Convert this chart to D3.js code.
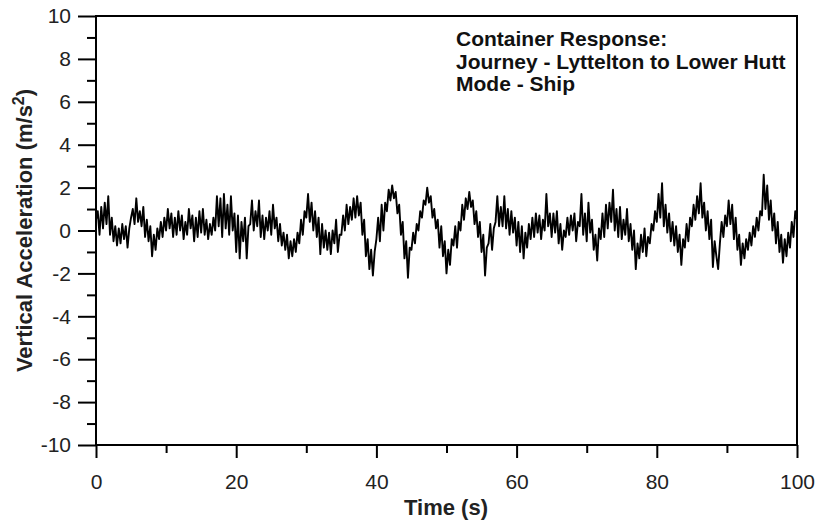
<!DOCTYPE html>
<html><head><meta charset="utf-8">
<script src="https://cdn.jsdelivr.net/npm/d3@7"></script>
<style>body{margin:0;background:#fff}svg{display:block}text{font-family:"Liberation Sans",Arial,sans-serif}</style>
</head><body>
<svg id="c" width="818" height="522"></svg>
<script>
const timeStep = 0.25;
const accel = [
0.5,0.9,-0.2,1.1, 0.1,1.3,0.3,1.6, -0.2,0.6,-0.5,0.2, -0.7,0.1,-0.6,0.3, -0.4,0.2,-0.8,0.1,
0.6,1.0,0.3,1.5, 0.4,0.9,0.2,1.1, -0.3,0.5,-0.5,0.2, -1.2,-0.2,-0.9,0.1, -0.4,0.4,-0.3,0.6,
0.0,1.0,0.1,0.8, -0.3,0.6,-0.2,0.9, 0.0,0.7,-0.4,0.4, -0.2,1.0,0.1,0.7, -0.5,0.6,-0.3,0.9,
-0.1,1.0,-0.2,0.5, -0.4,0.3,-0.2,0.6, 0.0,1.6,0.2,1.5, -0.3,1.7,0.1,1.2, -0.2,1.6,0.0,0.8,
-1.0,0.7,-1.3,0.4, -0.5,0.6,-1.3,0.2, 0.3,1.4,0.0,0.9, 0.2,1.4,-0.3,0.7, -0.4,0.6,0.0,0.9,
-0.2,1.2,0.1,0.6, -0.5,0.3,-0.7,-0.1, -0.9,-0.2,-1.3,-0.5, -1.2,-0.4,-1.0,-0.1, -0.6,0.5,-0.2,0.9,
0.6,1.7,0.4,1.3, 0.0,0.9,-0.3,0.6, -1.1,0.3,-0.8,0.0, -0.9,-0.1,-1.1,0.0, -0.6,0.5,-1.0,-0.2,
-0.2,0.7,0.0,1.2, 0.3,1.1,0.5,1.5, 0.6,1.6,0.7,1.3, -0.2,0.5,-1.2,-0.4, -1.8,-0.9,-2.1,-1.0,
-0.4,0.6,-0.5,1.2, 0.0,1.3,0.9,1.9, 1.4,2.1,1.5,1.8, 0.8,1.2,-0.2,0.4, -1.3,-0.5,-2.2,-0.8,
-0.9,-0.1,-0.6,0.3, 0.0,0.9,0.6,1.4, 1.2,2.0,1.3,1.6, 0.6,1.0,0.1,0.5, -0.8,0.2,-1.2,-0.5,
-2.0,-0.9,-1.6,-0.4, -0.7,0.2,-0.8,0.4, 0.0,1.2,0.5,1.5, 1.0,1.8,1.1,1.4, 0.3,0.9,-0.3,0.4,
-1.0,-0.2,-2.1,-0.8, -0.6,0.3,-0.9,0.1, 0.4,1.6,0.2,1.1, 0.2,1.6,0.1,1.0, -0.2,0.9,-0.1,0.6,
-0.7,0.4,-1.0,0.2, -1.3,-0.1,-0.8,0.3, -0.4,0.6,-0.3,0.8, -0.1,0.7,-0.4,0.5, 0.0,1.7,0.2,0.8,
-0.3,0.8,-0.1,0.9, -0.6,0.3,-0.9,0.0, -0.3,0.6,-0.2,0.7, 0.0,0.8,-0.5,0.4, 0.2,1.7,-0.2,0.8,
-0.5,1.3,-0.1,0.5, -0.9,-0.2,-1.4,0.1, -0.4,0.8,-0.3,1.2, 0.1,1.3,0.4,1.9, 0.0,1.0,-0.3,1.1,
-0.4,0.5,-0.2,1.0, -0.5,0.3,-0.9,0.0, -1.8,-0.6,-1.3,-0.2, -1.0,0.1,-1.2,-0.3, -0.6,0.3,0.0,0.9,
0.4,1.7,0.6,2.2, 0.2,1.2,-0.1,0.8, -0.5,0.4,-0.7,0.2, -1.0,-0.2,-1.6,-0.4, -0.8,0.3,-0.5,0.6,
0.2,1.2,0.5,1.6, 0.8,2.2,0.6,1.3, 0.0,0.9,-0.4,0.5, -1.7,-0.5,-1.2,-1.8, -0.6,0.4,-0.3,0.7,
0.2,1.4,0.3,1.2, -0.4,0.6,-0.9,-0.2, -1.6,-0.6,-1.3,-0.4, -0.9,-0.1,-0.7,0.2, -0.3,0.6,0.0,0.9,
0.7,2.6,1.0,2.1, 0.5,1.4,0.0,0.8, -0.6,0.4,-1.0,-0.2, -1.5,-0.4,-1.2,-0.1, -0.8,0.4,-0.3,0.9,
0.5
];
const xMajorTicks = [0,20,40,60,80,100];
const xMinorTicks = [10,30,50,70,90];
const yMajorTicks = [-10,-8,-6,-4,-2,0,2,4,6,8,10];
const yMinorTicks = [-9,-7,-5,-3,-1,1,3,5,7,9];
const titleLines = ["Container Response:","Journey - Lyttelton to Lower Hutt","Mode - Ship"];

const svg = d3.select("#c");
const L=96,R=797,T=16,B=445;
const x = d3.scaleLinear().domain([0,100]).range([L,R]);
const y = d3.scaleLinear().domain([-10,10]).range([B,T]);
const data = accel.map((v,i)=>({t:i*timeStep,v}));
const fmt = d => String(d);

svg.append("clipPath").attr("id","cl").append("rect").attr("x",L).attr("y",T).attr("width",R-L).attr("height",B-T);
svg.append("path").datum(data).attr("clip-path","url(#cl)")
  .attr("fill","none").attr("stroke","#000").attr("stroke-width",1.9).attr("stroke-linejoin","round")
  .attr("d",d3.line().x(d=>x(d.t)).y(d=>y(d.v)));

// frame
svg.append("rect").attr("x",L).attr("y",T).attr("width",R-L).attr("height",B-T)
  .attr("fill","none").attr("stroke","#000").attr("stroke-width",2);

// x axis
const xa = svg.append("g").attr("transform",`translate(0,${B})`);
xa.append("g").call(d3.axisBottom(x).tickValues(xMajorTicks).tickSize(13).tickPadding(16).tickFormat(fmt))
  .call(g=>{g.select(".domain").remove();g.selectAll("line").attr("stroke-width",2);g.selectAll("text").attr("font-size",21).attr("font-family","Liberation Sans, Arial").attr("fill","#222");});
xa.append("g").call(d3.axisBottom(x).tickValues(xMinorTicks).tickSize(8).tickFormat(""))
  .call(g=>{g.select(".domain").remove();g.selectAll("line").attr("stroke-width",2);});

// y axis
const ya = svg.append("g").attr("transform",`translate(${L},0)`);
ya.append("g").call(d3.axisLeft(y).tickValues(yMajorTicks).tickSize(18).tickPadding(7).tickFormat(fmt))
  .call(g=>{g.select(".domain").remove();g.selectAll("line").attr("stroke-width",2);g.selectAll("text").attr("font-size",21).attr("font-family","Liberation Sans, Arial").attr("fill","#222");});
ya.append("g").call(d3.axisLeft(y).tickValues(yMinorTicks).tickSize(9).tickFormat(""))
  .call(g=>{g.select(".domain").remove();g.selectAll("line").attr("stroke-width",2);});

// axis titles
svg.append("text").attr("x",446).attr("y",515).attr("text-anchor","middle")
  .attr("font-size",22).attr("font-weight","bold").attr("fill","#222").text("Time (s)");
const yt = svg.append("text").attr("transform",`translate(32,${(T+B)/2}) rotate(-90)`).attr("text-anchor","middle")
  .attr("font-size",22).attr("font-weight","bold").attr("fill","#222");
yt.append("tspan").text("Vertical Acceleration (m/s");
yt.append("tspan").attr("baseline-shift","super").attr("font-size",16).text("2");
yt.append("tspan").text(")");

// annotation
svg.append("g").selectAll("text").data(titleLines).join("text")
  .attr("x",456).attr("y",(d,i)=>46+i*22.5)
  .attr("font-size",21).attr("font-weight","bold").attr("fill","#111").text(d=>d);
</script>
</body></html>
